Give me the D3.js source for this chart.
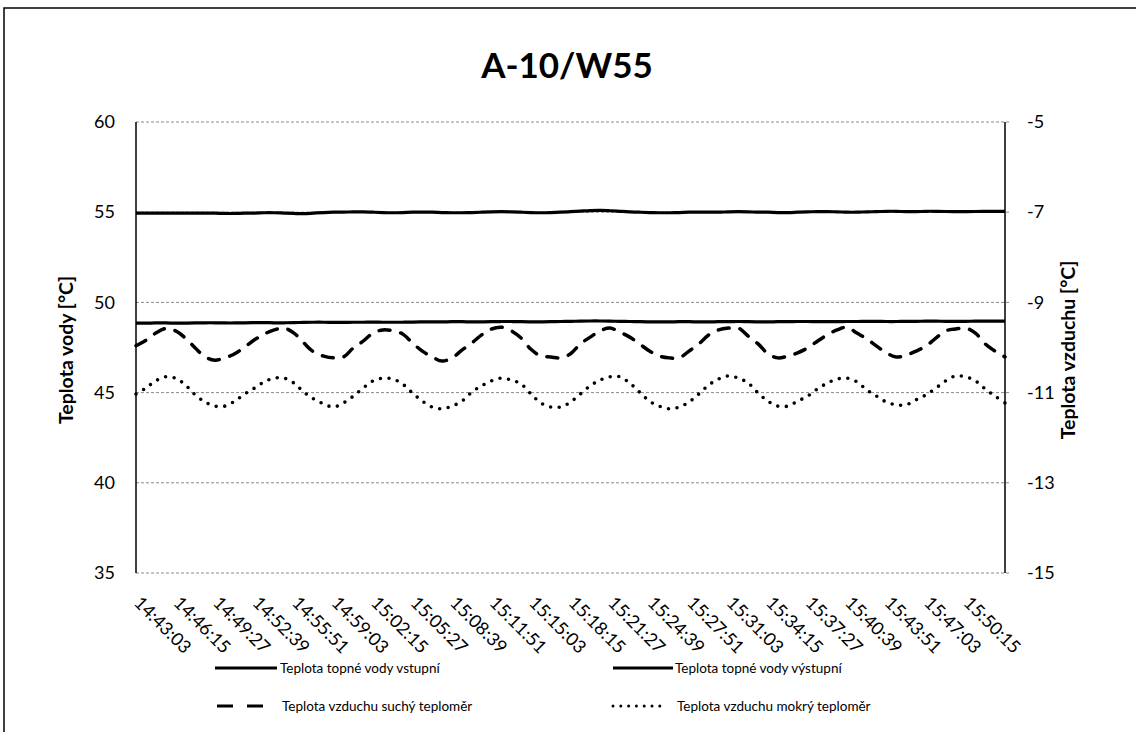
<!DOCTYPE html>
<html><head><meta charset="utf-8">
<script src="https://cdn.jsdelivr.net/npm/d3@7"></script>
<style>
body{margin:0;background:#fff}
svg{display:block}
text{font-family:Lato,"Noto Sans",sans-serif;fill:#000}
</style>
</head><body>
<svg id="c" width="1136" height="732"></svg>
<script>
// ---------- data ----------
const chartTitle = "A-10/W55";
const tickLabels = ["14:43:03","14:46:15","14:49:27","14:52:39","14:55:51","14:59:03","15:02:15","15:05:27","15:08:39","15:11:51","15:15:03","15:18:15","15:21:27","15:24:39","15:27:51","15:31:03","15:34:15","15:37:27","15:40:39","15:43:51","15:47:03","15:50:15"];
const startTime = "14:43:03";
const axisEndTime = "15:53:27";
const sampleStepSec = 48;
const leftTicks = [35,40,45,50,55,60];
const rightTicks = [-15,-13,-11,-9,-7,-5];
const seriesNames = ["Teplota topné vody vstupní","Teplota topné vody výstupní","Teplota vzduchu suchý teploměr","Teplota vzduchu mokrý teploměr"];

const inletTemp = [54.95,54.95,54.95,54.95,54.95,54.95,54.95,54.95,54.95,
 54.93,54.93,54.95,54.95,54.97,54.97,54.95,54.93,54.92,
 54.95,54.98,55.0,55.0,55.02,55.02,55.0,54.98,54.97,54.98,55.0,55.0,55.0,
 54.98,54.97,54.97,54.98,55.0,55.02,55.03,55.02,55.0,54.98,
 54.97,54.98,55.0,55.03,55.06,55.09,55.1,55.08,55.05,55.02,55.0,54.98,
 54.97,54.97,54.98,55.0,55.0,55.0,55.0,55.02,55.03,55.02,55.0,55.0,54.98,54.98,55.0,55.02,55.03,55.03,
 55.02,55.0,55.0,55.02,55.03,55.05,55.05,55.03,55.03,55.05,55.05,55.04,55.03,55.03,55.04,55.05,55.05,55.05];
const outletTemp = [48.85,48.85,48.86,48.86,48.85,48.85,48.86,48.87,48.87,
 48.86,48.86,48.87,48.88,48.88,48.87,48.87,48.88,48.89,
 48.9,48.9,48.89,48.89,48.9,48.9,48.91,48.9,48.9,48.9,48.91,48.92,48.92,
 48.92,48.93,48.93,48.92,48.92,48.93,48.94,48.94,48.93,48.92,
 48.92,48.93,48.94,48.95,48.96,48.97,48.97,48.96,48.95,48.94,48.93,48.92,
 48.92,48.92,48.93,48.93,48.92,48.92,48.93,48.93,48.94,48.93,48.92,48.92,48.93,48.93,48.94,48.94,48.93,48.93,
 48.93,48.94,48.94,48.95,48.95,48.94,48.94,48.95,48.95,48.96,48.96,48.95,48.95,48.95,48.96,48.96,48.96,48.96];
const dryAir = [-9.96,-9.84,-9.68,-9.58,-9.63,-9.79,-10.01,-10.21,-10.28,-10.23,
 -10.14,-9.99,-9.83,-9.70,-9.61,-9.57,-9.68,-9.90,-10.10,-10.19,
 -10.23,-10.21,-10.01,-9.86,-9.68,-9.61,-9.63,-9.70,-9.90,-10.08,
 -10.21,-10.30,-10.23,-10.06,-9.90,-9.72,-9.59,-9.55,-9.63,-9.79,
 -10.04,-10.19,-10.21,-10.23,-10.14,-9.92,-9.77,-9.63,-9.57,-9.66,
 -9.77,-9.92,-10.08,-10.19,-10.23,-10.23,-10.08,-9.92,-9.72,-9.61,
 -9.57,-9.57,-9.75,-9.92,-10.14,-10.23,-10.19,-10.12,-10.01,-9.86,
 -9.72,-9.61,-9.55,-9.68,-9.81,-9.97,-10.12,-10.21,-10.17,-10.08,
 -9.97,-9.79,-9.63,-9.59,-9.57,-9.68,-9.92,-10.08,-10.21];
const wetAir = [-11.03,-10.90,-10.74,-10.65,-10.68,-10.83,-11.05,-11.21,-11.30,-11.30,
 -11.19,-11.03,-10.90,-10.76,-10.68,-10.68,-10.79,-10.99,-11.14,-11.25,
 -11.32,-11.23,-11.08,-10.90,-10.74,-10.68,-10.70,-10.81,-11.01,-11.19,
 -11.32,-11.36,-11.30,-11.19,-10.99,-10.85,-10.74,-10.68,-10.72,-10.81,
 -11.03,-11.23,-11.32,-11.32,-11.21,-11.03,-10.85,-10.72,-10.65,-10.65,
 -10.79,-10.99,-11.19,-11.30,-11.36,-11.32,-11.21,-11.03,-10.83,-10.70,
 -10.63,-10.68,-10.79,-11.01,-11.19,-11.30,-11.30,-11.19,-11.08,-10.92,
 -10.79,-10.70,-10.68,-10.76,-10.94,-11.08,-11.21,-11.27,-11.27,-11.16,
 -11.05,-10.90,-10.74,-10.63,-10.65,-10.74,-10.92,-11.08,-11.23];

// ---------- layout ----------
const P = {l:136, r:1005, t:122, b:573};
const toSec = s => { const [h,m,ss] = s.split(":").map(Number); return h*3600+m*60+ss; };
const t0 = toSec(startTime);
const svg = d3.select("#c");

const x = d3.scaleLinear().domain([t0, toSec(axisEndTime)]).range([P.l, P.r]);
const yL = d3.scaleLinear().domain([35,60]).range([P.b, P.t]);
const yR = d3.scaleLinear().domain([-15,-5]).range([P.b, P.t]);
const tAt = i => t0 + i*sampleStepSec;

// outer frame
svg.append("path").attr("d","M4,732 L4,8 L1136,8").attr("fill","none").attr("stroke","#000").attr("stroke-width",1.5);

// title
svg.append("text").attr("x",567).attr("y",78).attr("text-anchor","middle")
  .attr("font-size",35).attr("font-weight","bold").text(chartTitle);

// gridlines
svg.append("g").selectAll("line").data(leftTicks).join("line")
  .attr("x1",P.l).attr("x2",P.r+5).attr("y1",d=>yL(d)).attr("y2",d=>yL(d))
  .attr("stroke","#8a8a8a").attr("stroke-width",1).attr("stroke-dasharray","3,2");

// axes lines
svg.append("line").attr("x1",P.l).attr("x2",P.l).attr("y1",P.t).attr("y2",P.b).attr("stroke","#000").attr("stroke-width",1.5);
svg.append("line").attr("x1",P.r).attr("x2",P.r).attr("y1",P.t).attr("y2",P.b).attr("stroke","#000").attr("stroke-width",1.5);

// y axes via d3
const gl = svg.append("g").attr("transform",`translate(${P.l},0)`)
  .call(d3.axisLeft(yL).tickValues(leftTicks).tickSize(0).tickPadding(21).tickFormat(d=>String(d)));
const gr = svg.append("g").attr("transform",`translate(${P.r},0)`)
  .call(d3.axisRight(yR).tickValues(rightTicks).tickSize(0).tickPadding(22).tickFormat(d=>String(d)));
[gl,gr].forEach(g=>{ g.select(".domain").remove();
  g.selectAll("text").attr("font-size",18).attr("font-family","Lato, 'Noto Sans', sans-serif").attr("fill","#000"); });

// x labels
svg.append("g").selectAll("text").data(tickLabels).join("text")
  .attr("transform",d=>`translate(${x(toSec(d))-3},604) rotate(45)`)
  .attr("font-size",18).text(d=>d);

// axis titles
svg.append("text").attr("transform","translate(66,350) rotate(-90)").attr("text-anchor","middle").attr("dy","0.35em")
  .attr("font-size",19.5).attr("font-weight","bold").text("Teplota vody [°C]");
svg.append("text").attr("transform","translate(1068,350) rotate(-90)").attr("text-anchor","middle").attr("dy","0.35em")
  .attr("font-size",19.5).attr("font-weight","bold").text("Teplota vzduchu [°C]");

// series
const mk = (arr, ys) => d3.line().curve(d3.curveCatmullRom).x((d,i)=>x(tAt(i))).y(d=>ys(d))(arr);
const plot = svg.append("g");
plot.append("path").attr("d",mk(inletTemp,yL)).attr("fill","none").attr("stroke","#000").attr("stroke-width",3.2);
plot.append("path").attr("d",mk(outletTemp,yL)).attr("fill","none").attr("stroke","#000").attr("stroke-width",3.2);
plot.append("path").attr("d",mk(dryAir,yR)).attr("fill","none").attr("stroke","#000").attr("stroke-width",3.5).attr("stroke-dasharray","11,11").attr("stroke-linecap","round");
plot.append("path").attr("d",mk(wetAir,yR)).attr("fill","none").attr("stroke","#000").attr("stroke-width",3.6).attr("stroke-dasharray","0,8.6").attr("stroke-linecap","round");

// legend
const leg = [
  {x1:215,x2:277,tx:280,y:668,dash:null,cap:"butt"},
  {x1:613,x2:673,tx:675,y:668,dash:null,cap:"butt"},
  {x1:217,x2:263,tx:282,y:706,dash:"16,14",cap:"butt"},
  {x1:613,x2:660,tx:677,y:706,dash:"0,7.8",cap:"round"}
];
const lg = svg.append("g");
leg.forEach((L,i)=>{
  lg.append("line").attr("x1",L.x1).attr("x2",L.x2).attr("y1",L.y).attr("y2",L.y)
    .attr("stroke","#000").attr("stroke-width",3).attr("stroke-dasharray",L.dash).attr("stroke-linecap",L.cap);
  lg.append("text").attr("x",L.tx).attr("y",L.y).attr("dy","0.35em").attr("font-size",13.5).text(seriesNames[i]);
});
</script>
</body></html>
